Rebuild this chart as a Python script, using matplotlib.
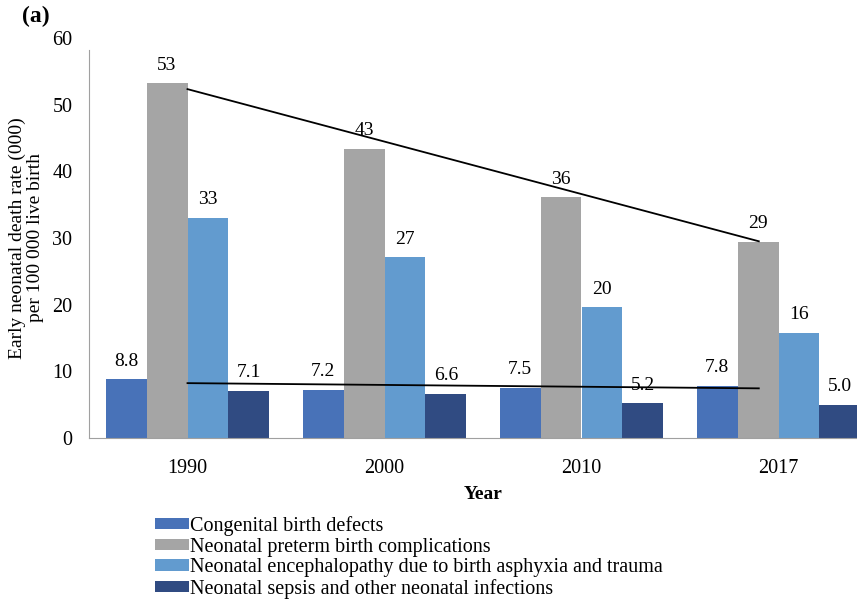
import numpy as np
import matplotlib
matplotlib.use("Agg")
import matplotlib.pyplot as plt

years = ["1990", "2000", "2010", "2017"]
congenital = [8.8, 7.2, 7.5, 7.8]
preterm = [53.2, 43.4, 36.1, 29.4]
encephalopathy = [33.0, 27.1, 19.6, 15.8]
sepsis = [7.1, 6.6, 5.2, 5.0]

series_names = [
    "Congenital birth defects",
    "Neonatal preterm birth complications",
    "Neonatal encephalopathy due to birth asphyxia and trauma",
    "Neonatal sepsis and other neonatal infections",
]
colors = ["#4872B8", "#A5A5A5", "#629BCF", "#304B82"]

plt.rcParams['font.family'] = ['Liberation Serif', 'DejaVu Serif']

fig = plt.figure(figsize=(8.57, 6), dpi=100)
ax = fig.add_axes([89 / 857, 1 - 438 / 600, (877 - 89) / 857, 400 / 600])

x = np.arange(len(years))
w = 0.208
all_series = [congenital, preterm, encephalopathy, sepsis]
for i, (vals, name, col) in enumerate(zip(all_series, series_names, colors)):
    bars = ax.bar(x + (i - 1.5) * w, vals, w, color=col, label=name)
    labels = [f"{v:.0f}" if v >= 10 else f"{v:.1f}" for v in vals]
    ax.bar_label(bars, labels=labels, padding=7, fontsize=14)

# linear trend lines for congenital and preterm series
xt = np.array([0, 2.9])
for vals in (preterm, congenital):
    k, b = np.polyfit(x, vals, 1)
    ax.plot(xt, k * xt + b, color="black", lw=1.3)

ax.set_xlim(-0.5, 3.5)
ax.set_ylim(0, 60)
ax.set_yticks(range(0, 61, 10))
ax.set_xticks(x)
ax.set_xticklabels(years)
ax.tick_params(axis="both", length=0, labelsize=14.5)
ax.tick_params(axis="x", pad=15)
ax.tick_params(axis="y", pad=12)
for s in ("top", "right"):
    ax.spines[s].set_visible(False)
for s in ("left", "bottom"):
    ax.spines[s].set_color("#A0A0A0")
ax.spines["left"].set_bounds(0, 58.2)

ax.set_xlabel("Year", fontsize=14, fontweight="bold", labelpad=6)
ax.set_ylabel("Early neonatal death rate (000)\nper 100 000 live birth", fontsize=14,
              labelpad=6, linespacing=1.1)

fig.text(0.026, 0.99, "(a)", fontsize=17, fontweight="bold", va="top")

leg = fig.legend(loc="upper left", bbox_to_anchor=(155 / 857, 1 - 516 / 600), frameon=False,
                 fontsize=14.5, handlelength=1.7, handleheight=0.5, handletextpad=0.05,
                 labelspacing=0.08, borderaxespad=0, borderpad=0)

fig.savefig("out.png", dpi=100)
